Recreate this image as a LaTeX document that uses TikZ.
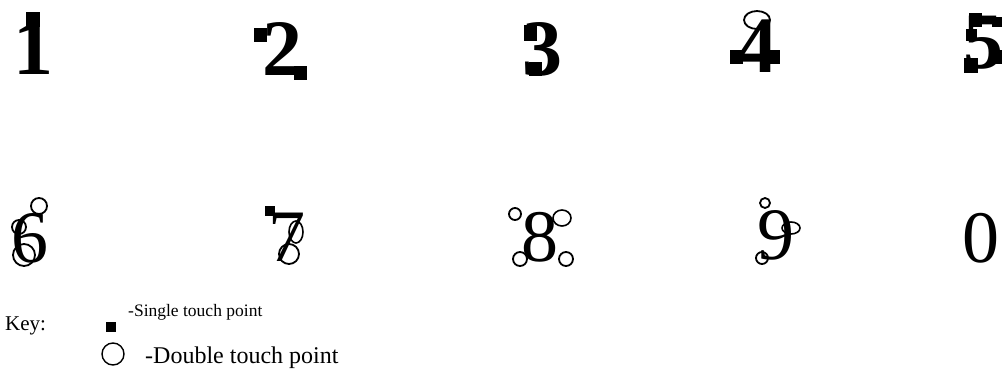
\documentclass[tikz,border=0pt]{standalone}
\usepackage{fontspec}
\setmainfont{Liberation Serif}
\begin{document}
\begin{tikzpicture}[x=1pt,y=-1pt,
  digitb/.style={font=\fontsize{80}{80}\selectfont\bfseries, inner sep=0pt},
  digitr/.style={font=\fontsize{74}{74}\selectfont, inner sep=0pt},
  sq/.style={rectangle, fill=black, inner sep=0pt, minimum width=13pt, minimum height=14pt},
  dbl/.style={draw=black, line width=1.8pt, inner sep=0pt, circle},
  keytext/.style={inner sep=0pt, anchor=base west}]
\useasboundingbox (0,0) rectangle (1003,391);
% top row
\node[digitb] (d1) at (33,48) {1};
\node[sq, minimum width=14pt, minimum height=15pt] (d1a) at (33,19) {};
\node[digitb] (d2) at (282,49) {2};
\node[sq] (d2a) at (260,35) {};
\node[sq] (d2b) at (300,73) {};
\node[digitb] (d3) at (542,49) {3};
\node[sq, minimum height=16pt] (d3a) at (530,33) {};
\node[sq] (d3b) at (535,69) {};
\node[digitb] (d4) at (757,46) {4};
\draw[line width=1.8pt] (757,20) ellipse (13 and 9);
\node[sq] (d4a) at (736,57) {};
\node[sq] (d4b) at (773,57) {};
\node[digitb] (d5) at (983,43) {5};
\node[sq] (d5a) at (975,20) {};
\node[sq, minimum width=10pt, minimum height=10pt] (d5b) at (997,22) {};
\node[sq, minimum width=11pt, minimum height=12pt] (d5c) at (971,35) {};
\node[sq, minimum width=14pt, minimum height=15pt] (d5d) at (971,65) {};
\node[sq] (d5e) at (995,57) {};
% bottom row
\node[digitr] (d6) at (30,238) {6};
\node[dbl, minimum size=16pt] (d6a) at (39,206) {};
\node[dbl, minimum size=14pt] (d6b) at (19,227) {};
\node[dbl, minimum size=22pt] (d6c) at (24,255) {};
\node[digitr] (d7) at (287,237) {7};
\node[sq, minimum width=10pt, minimum height=10pt] (d7a) at (270,211) {};
\draw[line width=1.6pt] (296,232) ellipse (7 and 11);
\node[dbl, minimum size=20pt] (d7c) at (289,254) {};
\node[digitr] (d8) at (540,237) {8};
\node[dbl, minimum size=12pt] (d8a) at (515,214) {};
\draw[line width=1.6pt] (562,218) ellipse (9 and 8);
\node[dbl, minimum size=14pt] (d8c) at (520,259) {};
\node[dbl, minimum size=14pt] (d8d) at (566,259) {};
\node[digitr] (d9) at (776,235) {9};
\node[dbl, minimum size=10pt] (d9a) at (765,203) {};
\draw[line width=1.6pt] (791,228) ellipse (9 and 6);
\node[dbl, minimum size=12pt] (d9c) at (762,258) {};
\node[digitr] (d0) at (981,238) {0};
% key
\node[keytext, font=\fontsize{21}{21}\selectfont] (key) at (5,330) {Key:};
\node[sq, minimum width=10pt, minimum height=10pt] (ks) at (111,327) {};
\node[keytext, font=\fontsize{17.5}{17.5}\selectfont] (kst) at (128,316) {-Single touch point};
\node[dbl, line width=1.4pt, minimum size=22pt] (kc) at (113,354) {};
\node[keytext, font=\fontsize{24}{24}\selectfont] (kct) at (145,363) {-Double touch point};
\end{tikzpicture}
\end{document}
